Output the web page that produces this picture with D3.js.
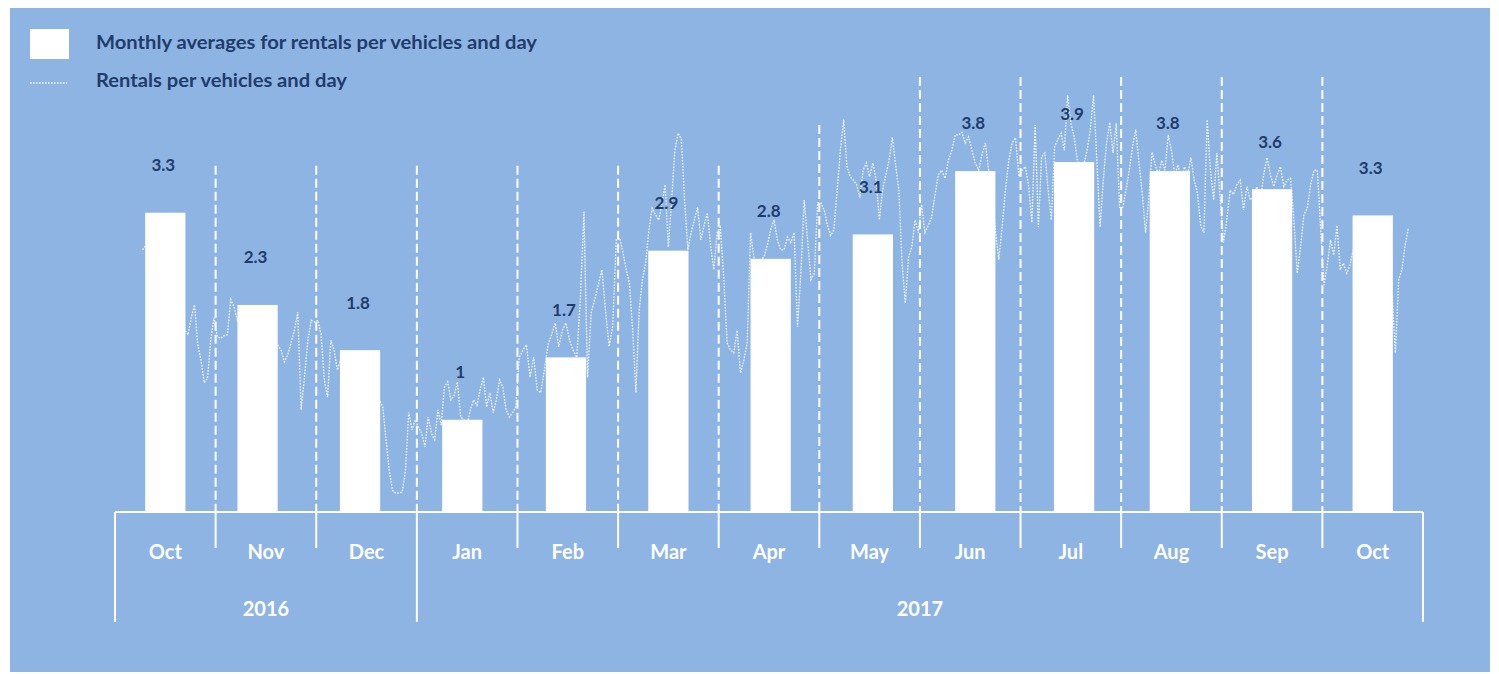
<!DOCTYPE html>
<html><head><meta charset="utf-8">
<script src="https://cdn.jsdelivr.net/npm/d3@7"></script>
<style>
body{margin:0;background:#fff;}
svg{display:block;font-family:Lato,"Open Sans",sans-serif;}
</style>
</head><body>
<svg id="chart" width="1499" height="674"></svg>
<script>
// ---------- data ----------
const months = ["Oct","Nov","Dec","Jan","Feb","Mar","Apr","May","Jun","Jul","Aug","Sep","Oct"];
const yearLabels = ["2016","2017"];
const yearMonthCounts = [3, 10];
const monthlyAvg = [3.31, 2.29, 1.79, 1.02, 1.71, 2.89, 2.80, 3.07, 3.77, 3.87, 3.77, 3.57, 3.28];
// day of month at which each monthly average is plotted on the date axis
const barDay = [16.5, 13.5, 14.5, 15, 14.5, 16.5, 16.5, 17.5, 17.5, 17.5, 16, 16, 16.5];
const separatorTop = [3.83,3.83,3.83,3.83,3.83,3.83,4.28,4.81,4.81,4.81,4.81,4.81];
const firstDay = 9; // daily series starts on 9 Oct 2016

const dailyOct16 = [2.90,2.95,3.01,3.06,2.90,2.79,2.84,2.95,2.68,2.57,2.35,2.23,2.12,2.01,1.96,2.15,2.29,1.85,1.68,1.43,1.48,1.90,2.15];
const dailyNov16 = [1.94,1.92,1.95,1.96,2.35,2.27,2.12,2.23,2.01,1.90,2.07,2.18,2.01,1.85,1.96,2.12,1.90,1.79,1.85,1.79,1.66,1.74,1.87,2.01,2.21,1.13,1.49,1.90,2.12,2.10];
const dailyDec16 = [2.12,1.96,1.46,1.27,1.90,1.79,1.57,1.68,1.52,1.46,1.57,1.40,1.35,1.46,1.29,1.24,1.35,1.29,1.18,1.24,1.16,0.80,0.46,0.24,0.21,0.21,0.22,0.46,1.10,0.91,1.02];
const dailyJan17 = [0.94,0.87,0.72,1.05,0.87,0.80,1.13,0.96,1.38,1.44,1.24,1.29,1.44,1.05,1.02,0.96,1.13,1.24,1.18,1.35,1.49,1.16,1.32,1.10,1.24,1.46,1.38,1.13,1.05,1.10,1.16];
const dailyFeb17 = [1.71,1.79,1.85,1.49,1.71,1.35,1.32,1.57,1.85,1.96,2.09,1.83,2.01,2.09,1.90,1.79,1.71,2.35,3.32,1.49,2.20,2.35,2.51,2.68,2.23,1.83,2.05,3.01];
const dailyMar17 = [3.03,2.87,2.68,2.53,2.01,1.32,2.23,2.57,2.75,3.12,3.36,3.29,3.23,3.40,3.62,2.93,3.45,4.00,4.19,4.12,3.45,2.90,3.09,3.23,3.37,3.01,3.17,3.31,2.95,2.68,3.09];
const dailyApr17 = [3.15,2.60,1.87,1.79,1.76,2.01,1.54,1.68,1.87,3.09,2.82,2.77,2.79,2.82,2.95,3.12,3.23,3.01,2.90,2.90,3.04,2.98,3.09,2.05,2.64,3.45,3.01,2.57,2.64,3.42];
const dailyMay17 = [3.42,3.34,3.17,3.06,3.12,3.56,4.00,4.34,3.82,3.71,3.67,3.62,3.48,3.78,3.86,3.71,3.86,3.67,3.23,3.56,3.73,3.89,4.14,3.84,3.56,2.75,2.31,2.82,2.93,3.23,3.09];
const dailyJun17 = [3.40,3.09,3.17,3.26,3.51,3.73,3.78,3.69,3.89,4.00,4.17,4.17,4.20,4.08,4.15,4.00,3.86,3.78,3.95,4.08,3.78,3.56,3.12,2.79,3.15,3.56,3.89,4.08,4.14,3.71];
const dailyJul17 = [3.78,3.82,3.60,3.20,4.28,3.15,3.93,3.97,3.56,3.23,4.04,4.12,4.19,4.00,4.61,4.30,4.15,3.89,3.78,3.84,4.00,4.23,4.61,3.89,3.15,3.67,4.08,4.31,3.97,4.30,3.37];
const dailyAug17 = [3.37,3.56,3.78,4.04,4.23,3.86,3.53,3.09,3.45,3.98,3.84,3.73,3.89,3.78,4.17,4.00,3.73,3.84,3.67,3.82,3.73,3.92,3.67,3.53,3.17,3.09,4.34,3.78,3.45,3.97,3.48];
const dailySep17 = [2.98,3.23,3.56,3.51,3.62,3.67,3.34,3.60,3.45,3.51,3.60,3.45,3.73,3.92,3.73,3.60,3.73,3.82,3.60,3.67,3.69,3.23,2.64,2.93,3.29,3.36,3.62,3.78,3.78,3.12];
const dailyOct17 = [2.51,2.73,3.01,2.84,3.17,2.68,2.75,2.64,2.73,2.90,2.79,3.01,2.68,2.84,2.95,2.73,2.57,2.79,2.90,2.68,2.46,2.38,1.76,2.57,2.68,2.95,3.14];

const legendLabels = ["Monthly averages for rentals per vehicles and day","Rentals per vehicles and day"];

// ---------- drawing ----------
const svg = d3.select("#chart");
const bg = "#8EB4E3", navy = "#1F3C6C";

svg.append("rect").attr("x",10).attr("y",8).attr("width",1480).attr("height",664).attr("fill",bg);

const x = d3.scaleBand().domain(d3.range(months.length)).range([115,1423]).paddingInner(0.6).paddingOuter(0.3);
const y = d3.scaleLinear().domain([0,4.8]).range([512,78]);
const half = (x.step()-x.bandwidth())/2;
const bounds = d3.range(months.length+1).map(i => i < months.length ? x(i)-half : x(months.length-1)+x.bandwidth()+half);

const monthStarts = d3.timeMonth.range(new Date(2016,9,1), new Date(2017,10,2));
const xt = d3.scaleTime().domain(monthStarts).range(bounds);
const dayDate = (i, day) => { const ms = monthStarts[i]; return new Date(ms.getFullYear(), ms.getMonth(), 1, 0).getTime() + (day-1)*864e5; };

const dailyByMonth = [dailyOct16,dailyNov16,dailyDec16,dailyJan17,dailyFeb17,dailyMar17,dailyApr17,dailyMay17,dailyJun17,dailyJul17,dailyAug17,dailySep17,dailyOct17];
const daily = [];
dailyByMonth.forEach((arr,i) => {
  const start = i===0 ? firstDay : 1;
  arr.forEach((v,k) => daily.push({date:new Date(dayDate(i, start+k+0.5)), v}));
});

// daily dotted line (behind bars)
svg.append("path").datum(daily)
  .attr("fill","none").attr("stroke","rgba(255,255,255,0.9)").attr("stroke-width",1.3)
  .attr("stroke-dasharray","1.6,1.4")
  .attr("d", d3.line().x(d=>xt(d.date)).y(d=>y(d.v)));

const barCx = i => xt(new Date(dayDate(i, barDay[i])));

// bars
svg.append("g").selectAll("rect").data(monthlyAvg).join("rect")
  .attr("x",(d,i)=>barCx(i)-x.bandwidth()/2).attr("width",x.bandwidth())
  .attr("y",d=>y(d)).attr("height",d=>y(0)-y(d)).attr("fill","#fff");

// dashed separators
svg.append("g").selectAll("line").data(separatorTop).join("line")
  .attr("x1",(d,i)=>bounds[i+1]).attr("x2",(d,i)=>bounds[i+1])
  .attr("y1",d=>y(d)).attr("y2",y(0))
  .attr("stroke","#fff").attr("stroke-width",2).attr("stroke-dasharray","9,4");

// data labels
svg.append("g").selectAll("text").data(monthlyAvg).join("text")
  .attr("x",(d,i)=>barCx(i)-2).attr("y",d=>y(d)-46)
  .attr("text-anchor","middle").attr("dominant-baseline","middle")
  .attr("fill",navy).attr("font-weight",700).attr("font-size",17)
  .text(d=>String(+d.toFixed(1)));

// axis
const ax = svg.append("g").attr("stroke","#fff").attr("stroke-width",2);
ax.append("line").attr("x1",bounds[0]).attr("x2",bounds[bounds.length-1]).attr("y1",y(0)).attr("y2",y(0));
const yearBounds = [0]; yearMonthCounts.forEach(c=>yearBounds.push(yearBounds[yearBounds.length-1]+c));
ax.selectAll("line.t").data(bounds).join("line").attr("class","t")
  .attr("x1",d=>d).attr("x2",d=>d).attr("y1",y(0))
  .attr("y2",(d,i)=>yearBounds.includes(i)?622:548);

svg.append("g").selectAll("text").data(months).join("text")
  .attr("x",(d,i)=>x(i)+x.bandwidth()/2).attr("y",554)
  .attr("text-anchor","middle").attr("dominant-baseline","middle")
  .attr("fill","#fff").attr("font-weight",700).attr("font-size",20)
  .text(d=>d);

svg.append("g").selectAll("text").data(yearLabels).join("text")
  .attr("x",(d,i)=>(bounds[yearBounds[i]]+bounds[yearBounds[i+1]])/2).attr("y",611)
  .attr("text-anchor","middle").attr("dominant-baseline","middle")
  .attr("fill","#fff").attr("font-weight",700).attr("font-size",20)
  .text(d=>d);

// legend
svg.append("rect").attr("x",30).attr("y",29).attr("width",39).attr("height",30).attr("fill","#fff");
svg.append("line").attr("x1",30).attr("x2",67).attr("y1",83).attr("y2",83)
  .attr("stroke","rgba(255,255,255,0.9)").attr("stroke-width",1.3).attr("stroke-dasharray","1.6,1.4");
const legendWidths = [441, 251];
svg.append("g").selectAll("text").data(legendLabels).join("text")
  .attr("x",96).attr("y",(d,i)=>44+i*38)
  .attr("dominant-baseline","middle")
  .attr("fill",navy).attr("font-weight",700).attr("font-size",19)
  .attr("textLength",(d,i)=>legendWidths[i]).attr("lengthAdjust","spacingAndGlyphs")
  .text(d=>d);
</script>
</body></html>
